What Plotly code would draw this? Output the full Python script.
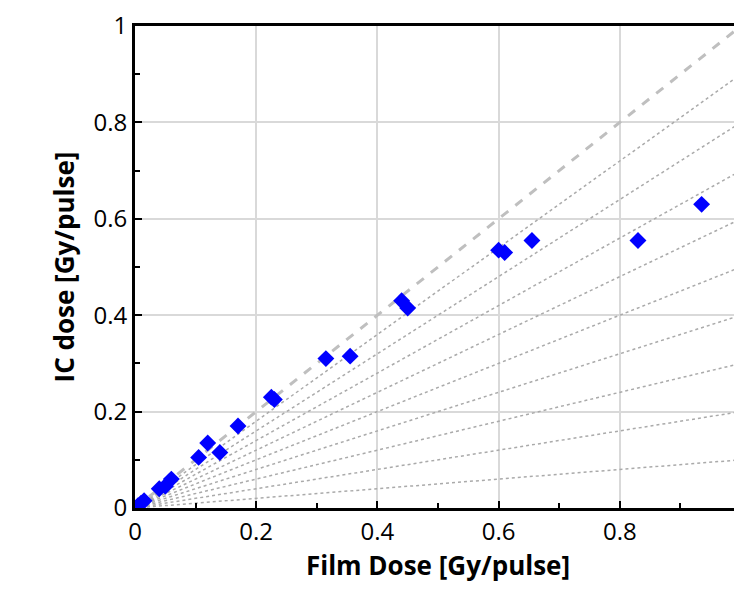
import plotly.graph_objects as go

film_dose = [0.005, 0.01, 0.015, 0.04, 0.05, 0.06, 0.105, 0.12, 0.14, 0.17,
             0.225, 0.23, 0.315, 0.355, 0.44, 0.45, 0.6, 0.61, 0.655, 0.83, 0.935]
ic_dose = [0.005, 0.01, 0.015, 0.04, 0.045, 0.06, 0.105, 0.135, 0.115, 0.17,
           0.23, 0.225, 0.31, 0.315, 0.43, 0.415, 0.535, 0.53, 0.555, 0.555, 0.63]
ratio_lines = [0.1, 0.2, 0.3, 0.4, 0.5, 0.6, 0.7, 0.8, 0.9]

fig = go.Figure()
for r in ratio_lines:
    fig.add_trace(go.Scatter(x=[0, 1], y=[0, r], mode='lines',
                             line=dict(color='#aaaaaa', width=1.5, dash='dot'),
                             showlegend=False, hoverinfo='skip'))
fig.add_trace(go.Scatter(x=[0, 1], y=[0, 1], mode='lines',
                         line=dict(color='#bfbfbf', width=3, dash='dash'),
                         showlegend=False))
fig.add_trace(go.Scatter(x=film_dose, y=ic_dose, mode='markers',
                         marker=dict(symbol='diamond', size=13, color='#0000ff'),
                         showlegend=False))

axis = dict(range=[0, 1], dtick=0.2, showgrid=True, gridcolor='#d9d9d9', gridwidth=1.5,
            showline=True, linecolor='black', linewidth=3, mirror=True,
            ticks='inside', ticklen=7, tickwidth=2, tickcolor='black',
            minor=dict(dtick=0.1, ticks='inside', ticklen=5, tickwidth=2, tickcolor='black', showgrid=False),
            zeroline=False, tickfont=dict(size=24, color='black'),
            tickformat='~g', automargin=False)
fig.update_layout(
    width=742, height=600,
    paper_bgcolor='white', plot_bgcolor='white',
    font=dict(family='Open Sans, sans-serif', color='black'),
    margin=dict(l=127, r=9, t=18, b=100),
    xaxis=dict(axis, title=dict(text='<b>Film Dose [Gy/pulse]</b>', font=dict(size=26), standoff=6)),
    yaxis=dict(axis, title=dict(text='<b>IC dose [Gy/pulse]</b>', font=dict(size=26), standoff=12)),
)
fig.write_html("out.html")
